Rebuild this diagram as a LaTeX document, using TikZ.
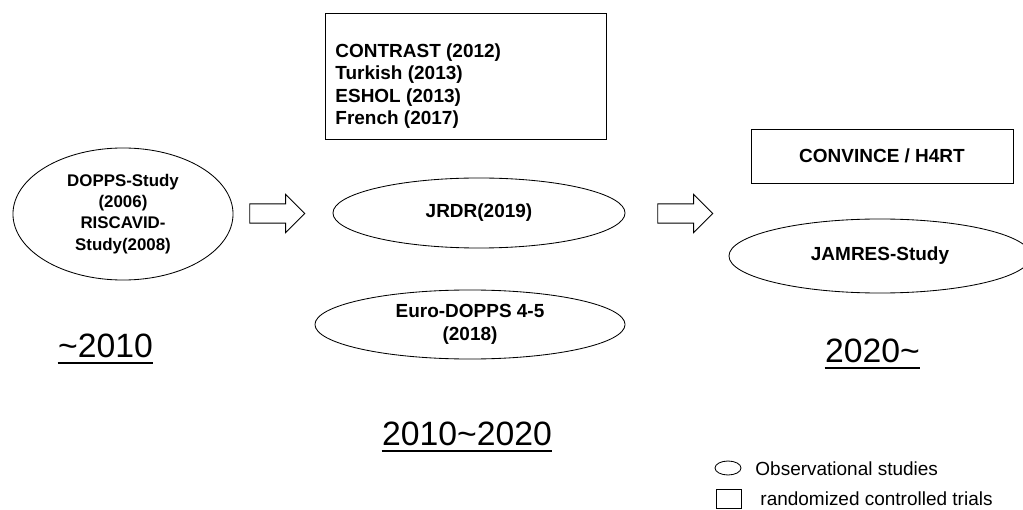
\documentclass[tikz,border=0pt]{standalone}
\usepackage{fontspec}
\setmainfont{Liberation Sans}
\usetikzlibrary{shapes,positioning}

\begin{document}
\begin{tikzpicture}[x=0.025cm,y=-0.025cm,
        line width=0.6pt,
        obs/.style={draw,ellipse,inner sep=0pt,align=center,
            font=\fontsize{13.5}{16.4}\bfseries\selectfont},
        rct/.style={draw,rectangle,inner sep=0pt,
            font=\fontsize{13.5}{16}\bfseries\selectfont},
        bigarrow/.style={draw,single arrow,single arrow head extend=0.24cm,
            single arrow tip angle=90,single arrow head indent=0pt,
            inner xsep=0pt,inner ysep=0.23cm,text height=0pt,text depth=0pt,
            minimum height=1.375cm},
        era/.style={font=\fontsize{24}{28}\selectfont,inner sep=0pt,anchor=base},
        eraline/.style={line width=1.4pt},
        legend/.style={font=\fontsize{13.5}{16}\selectfont,inner sep=0pt,anchor=west},
    ]
    \useasboundingbox (0,0) rectangle (1023,510);

    % observational studies
    \node[obs,minimum width=5.5cm,minimum height=3.3cm,
        font=\fontsize{12}{15}\bfseries\selectfont] (dopps) at (123,214)
        {DOPPS-Study\\(2006)\\RISCAVID-\\Study(2008)};
    \node[obs,minimum width=7.3cm,minimum height=1.75cm] (jrdr) at (479,213) {JRDR(2019)};
    \node[obs,minimum width=7.75cm,minimum height=1.725cm] (euro) at (470,324.5)
        {Euro-DOPPS 4-5\\(2018)};
    \node[obs,minimum width=7.55cm,minimum height=1.85cm] (jamres) at (880,256) {JAMRES-Study};

    % trials
    \node[rct,minimum width=7.025cm,minimum height=3.15cm] (rct1) at (465.5,76) {};
    \node[rct,draw=none,align=left,anchor=north west] (rct1txt) at (335,43)
        {CONTRAST (2012)\\Turkish (2013)\\ESHOL (2013)\\French (2017)};
    \node[rct,minimum width=6.55cm,minimum height=1.35cm] (convince) at (882,156)
        {CONVINCE / H4RT};

    % block arrows
    \node[bigarrow] (arr1) at (272.5,213.5) {};
    \node[bigarrow] (arr2) at (680.5,213.5) {};

    % periods
    \node[era] (e1) at (105.5,357) {\textasciitilde2010};
    \node[era] (e2) at (467,445) {2010\textasciitilde2020};
    \node[era] (e3) at (872.5,362) {2020\textasciitilde};
    \foreach \e in {e1,e2,e3}
        \draw[eraline] ([yshift=-4.3pt]\e.base west) -- ([yshift=-4.3pt]\e.base east);

    % legend
    \node[draw,ellipse,inner sep=0pt,minimum width=0.65cm,minimum height=0.35cm] (legobs) at (728,468) {};
    \node[draw,rectangle,inner sep=0pt,minimum width=0.625cm,minimum height=0.475cm] (legrct) at (728.5,498.5) {};
    \node[legend] (legobstxt) at (755,469) {Observational studies};
    \node[legend] (legrcttxt) at (760,499) {randomized controlled trials};
\end{tikzpicture}
\end{document}
